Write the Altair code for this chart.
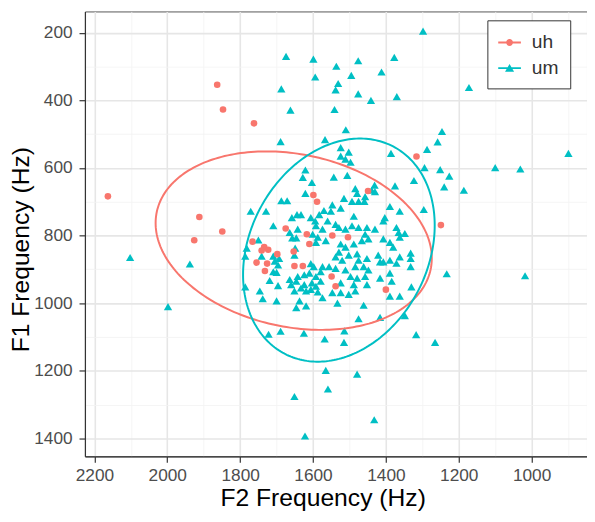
import altair as alt
import numpy as np
import pandas as pd

groups = ["uh", "um"]
colors = ["#F8766D", "#00BFC4"]

# "uh" tokens (F2, F1 in Hz)
uh_f2 = [2163, 1912, 1849, 1863, 1847, 1762, 1599, 1589, 1675, 1617, 1926, 1610, 1766, 1734,
         1723, 1741, 1698, 1755, 1726, 1732, 1653, 1651, 1628, 1549, 1538, 1547, 1449, 1504,
         1400, 1249, 1316]
uh_f1 = [684, 745, 788, 354, 427, 468, 680, 700, 779, 796, 814, 825, 818, 834,
         842, 844, 855, 880, 883, 905, 847, 890, 890, 921, 950, 800, 668, 805,
         960, 769, 566]

# "um" tokens (F2, F1 in Hz)
um_f2 = [2102, 1938, 1998,
         1674, 1599, 1594, 1687, 1662, 1689, 1567, 1298, 1536, 1476, 1377, 1495, 1412, 1531,
         1538, 1476, 1441, 1370, 1172, 1541, 1510, 1246, 1258, 1524, 1502, 1524, 1511, 1497,
         1386, 1287, 1294, 899, 1251, 1226,
         1240, 1186, 1100, 1031, 1233, 1018,
         1621, 1628, 1603, 1621, 1687, 1671, 1771, 1729, 1709, 1658, 1644, 1633, 1606, 1594,
         1570, 1583, 1592, 1574, 1642, 1657, 1646, 1664, 1601, 1587, 1592, 1565, 1750, 1782,
         1786, 1741, 1709, 1705, 1693, 1696, 1651, 1649, 1606, 1598, 1574, 1709, 1700, 1719,
         1696, 1746, 1738, 1700, 1786, 1660, 1664, 1646, 1642, 1624, 1610, 1592, 1579, 1624,
         1603, 1592, 1579, 1651, 1633, 1619, 1606, 1587, 1637, 1619, 1646, 1574, 1722, 1689,
         1625, 1568,
         1543, 1506, 1484, 1479, 1457, 1439, 1430, 1431, 1375, 1323, 1515, 1493, 1475, 1459,
         1547, 1524, 1551, 1488, 1389, 1362, 1403, 1407, 1296, 1560, 1538, 1529, 1511, 1493,
         1475, 1452, 1430, 1371, 1365, 1348, 1362, 1457, 1448, 1466, 1488, 1407, 1389, 1380,
         1524, 1511, 1529, 1502, 1520, 1538, 1479, 1475, 1452, 1461, 1484, 1421, 1416, 1407,
         1389, 1371, 1362, 1332, 1332, 1332, 1556, 1538, 1511, 1497, 1479, 1457, 1448, 1416,
         1389, 1384, 1524, 1488, 1452, 1547, 1524, 1502, 1484, 1389, 1362, 1330, 1533, 1461,
         1475, 1416, 1348, 1514,
         1651, 1622, 1565, 1559, 1515, 1317, 1265, 1479, 1432]
um_f1 = [865, 884, 1010,
         270, 278, 331, 366, 429, 522, 516, 195, 299, 283, 273, 326, 316, 350,
         369, 381, 400, 389, 362, 427, 487, 492, 523, 540, 553, 565, 574, 583,
         557, 545, 599, 557, 605, 624,
         656, 666, 599, 603, 913, 919,
         606, 628, 643, 675, 697, 697, 728, 728, 771, 747, 738, 738, 747, 757,
         726, 738, 771, 781, 781, 807, 807, 791, 796, 805, 820, 815, 813, 837,
         861, 861, 861, 876, 868, 887, 858, 837, 883, 892, 892, 907, 909, 933,
         948, 964, 987, 993, 952, 945, 930, 935, 921, 916, 911, 921, 907, 945,
         940, 950, 935, 964, 955, 964, 959, 967, 993, 1008, 1013, 984, 1092, 1083,
         1089, 1106,
         627, 622, 661, 675, 685, 666, 670, 651, 653, 637, 690, 699, 699, 699,
         709, 719, 728, 743, 714, 728, 747, 757, 723, 757, 767, 776, 781, 771,
         776, 776, 781, 776, 791, 794, 805, 796, 810, 815, 825, 810, 820, 834,
         825, 834, 849, 858, 873, 863, 854, 873, 868, 892, 892, 858, 878, 878,
         873, 882, 863, 852, 868, 892, 892, 897, 902, 921, 926, 921, 902, 926,
         911, 935, 940, 945, 945, 969, 969, 974, 964, 979, 979, 952, 1000, 1006,
         1046, 1042, 1037, 1082,
         1276, 1393, 1199, 1254, 1116, 1093, 1116, 1210, 1345]

# 95% ellipses: centre, half extents, cross term
ell_center_f2 = [1653, 1529]
ell_center_f1 = [815, 843]
ell_half_f2 = [379, 263]
ell_half_f1 = [264, 330]
ell_cross = [-19700, 19200]

x_ticks = list(range(900, 2300, 100))
y_ticks = list(range(200, 1500, 100))

points = pd.DataFrame({
    "F2": uh_f2 + um_f2,
    "F1": uh_f1 + um_f1,
    "vowel": ["uh"] * len(uh_f2) + ["um"] * len(um_f2),
})

rows = []
t = np.linspace(0, 2 * np.pi, 241)
for g, c2, c1, h2, h1, cv in zip(groups, ell_center_f2, ell_center_f1, ell_half_f2, ell_half_f1, ell_cross):
    k = cv / h2
    m = np.sqrt(h1 ** 2 - k ** 2)
    for i, tt in enumerate(t):
        rows.append({"vowel": g, "i": i,
                     "F2": c2 + h2 * np.cos(tt),
                     "F1": c1 + k * np.cos(tt) + m * np.sin(tt)})
ell = pd.DataFrame(rows)

major = "datum.value % 200 === 0"


def make_axis(vals, label_pad, title_pad, **title_pos):
    return alt.Axis(
        values=vals,
        format="d",
        labelExpr=f"{major} ? datum.label : ''",
        labelFontSize=17.5,
        labelColor="#4D4D4D",
        labelPadding=label_pad,
        labelOverlap=False,
        labelFlush=False,
        tickSize=6,
        tickColor="#333333",
        tickWidth=1.2,
        tickOpacity={"condition": {"test": major, "value": 1}, "value": 0},
        gridColor={"condition": {"test": major, "value": "#E6E6E6"}, "value": "#F2F2F2"},
        gridWidth={"condition": {"test": major, "value": 1.6}, "value": 0.8},
        domainColor="#333333",
        domainWidth=1.2,
        titleFontSize=25,
        titleFontWeight="normal",
        titleColor="#000000",
        titlePadding=title_pad,
        **title_pos,
    )


x_enc = alt.X("F2:Q", title="F2 Frequency (Hz)",
              scale=alt.Scale(domain=[848, 2226], reverse=True, nice=False, zero=False),
              axis=make_axis(x_ticks, 5, 1.5, titleX=241))
y_enc = alt.Y("F1:Q", title="F1 Frequency (Hz)",
              scale=alt.Scale(domain=[137, 1453], reverse=True, nice=False, zero=False),
              axis=make_axis(y_ticks, 7, 0, titleY=241))

# legend keys: a short line with the point symbol on it
uh_path = "M-1,-0.08H1V0.08H-1ZM-0.3,0A0.3,0.3,0,1,1,0.3,0A0.3,0.3,0,1,1,-0.3,0Z"
um_path = "M-1,-0.08H1V0.08H-1ZM0,-0.36L0.4,0.32L-0.4,0.32Z"

legend = alt.Legend(
    title=None,
    orient="none",
    legendX=408,
    legendY=9,
    padding=11,
    fillColor="white",
    strokeColor="#333333",
    labelFontSize=19.5,
    labelColor="#333333",
    labelOffset=11,
    labelExpr="datum.label + '\u00a0\u00a0'",
    rowPadding=5,
    symbolSize=529,
    symbolOpacity=1,
    symbolStrokeWidth=0,
)

color_enc = alt.Color("vowel:N", scale=alt.Scale(domain=groups, range=colors), legend=legend)
shape_enc = alt.Shape("vowel:N", scale=alt.Scale(domain=groups, range=[uh_path, um_path]), legend=legend)

base = alt.Chart(points)

um_layer = base.transform_filter("datum.vowel === 'um'").mark_point(
    filled=True, shape="triangle-up", size=70, opacity=1
).encode(x=x_enc, y=y_enc, color=color_enc)

uh_layer = base.transform_filter("datum.vowel === 'uh'").mark_point(
    filled=True, shape="circle", size=45, opacity=1
).encode(x=x_enc, y=y_enc, color=color_enc)

ell_layer = alt.Chart(ell).mark_line(strokeWidth=2).encode(
    x=x_enc, y=y_enc, color=color_enc, order=alt.Order("i:Q")
)

legend_layer = base.transform_filter("false").mark_point(filled=True, opacity=1).encode(
    x=x_enc, y=y_enc, color=color_enc, shape=shape_enc
)

chart = alt.layer(um_layer, uh_layer, ell_layer, legend_layer).properties(
    width=509,
    height=451,
    autosize=alt.AutoSizeParams(type="none"),
    padding={"left": 78, "top": 0, "right": 0, "bottom": 55},
).configure(
    font="Liberation Sans",
    background="white",
).configure_view(
    stroke="#555555",
    strokeWidth=1,
)

chart.save("out.html", embed_options={"renderer": "svg", "actions": False})
